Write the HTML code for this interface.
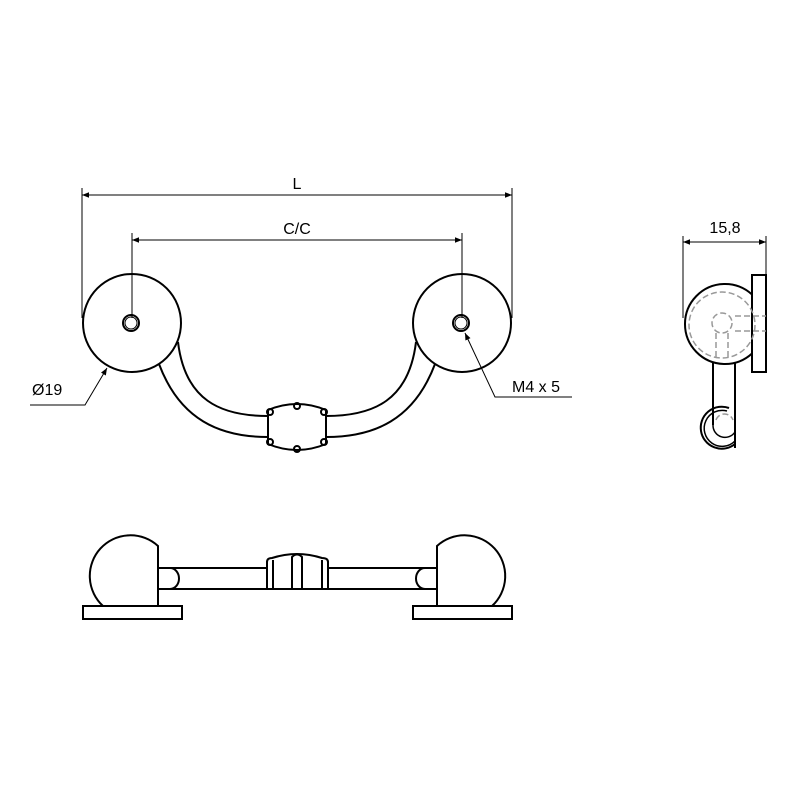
<!DOCTYPE html>
<html><head><style>body{margin:0;background:#fff}svg{display:block}</style></head><body>
<svg width="800" height="800" viewBox="0 0 800 800" xmlns="http://www.w3.org/2000/svg" font-family="Liberation Sans, sans-serif">
<defs><marker id="a" viewBox="0 0 10 10" refX="10" refY="5" markerWidth="10" markerHeight="7" orient="auto-start-reverse" markerUnits="userSpaceOnUse"><path d="M0,1 L10,5 L0,9z" fill="#000"/></marker></defs>
<g stroke="#000" fill="none" stroke-width="1">
<line x1="82" y1="195" x2="512" y2="195" marker-start="url(#a)" marker-end="url(#a)"/>
<line x1="82" y1="188" x2="82" y2="318"/><line x1="512" y1="188" x2="512" y2="318"/>
<line x1="132" y1="240" x2="462" y2="240" marker-start="url(#a)" marker-end="url(#a)"/>
<line x1="132" y1="233" x2="132" y2="318"/><line x1="462" y1="233" x2="462" y2="318"/>
<polyline points="30,405 85,405 107,368" marker-end="url(#a)"/>
<polyline points="572,397 495,397 465,333" marker-end="url(#a)"/>
<line x1="683" y1="242" x2="766" y2="242" marker-start="url(#a)" marker-end="url(#a)"/>
<line x1="683" y1="236" x2="683" y2="318"/><line x1="766" y1="236" x2="766" y2="275"/>
</g>
<g stroke="#000" fill="none" stroke-width="2">
<circle cx="132" cy="323" r="49"/><circle cx="462" cy="323" r="49"/>
<circle cx="131" cy="323" r="8"/><circle cx="131" cy="323" r="6" stroke-width="1"/>
<circle cx="461" cy="323" r="8"/><circle cx="461" cy="323" r="6" stroke-width="1"/>
<path d="M159,364 C180,420 220,437 268,437"/><path d="M178,342 C185,400 220,416 268,416"/>
<path d="M435,364 C414,420 374,437 326,437"/><path d="M416,342 C409,400 374,416 326,416"/>
<path d="M268,410 Q297,398 326,410 L326,444 Q297,456 268,444 Z"/>
<circle cx="297" cy="406" r="3"/><circle cx="297" cy="449" r="3"/>
<circle cx="270" cy="412" r="3"/><circle cx="324" cy="412" r="3"/><circle cx="270" cy="442" r="3"/><circle cx="324" cy="442" r="3"/>
<path d="M158,606 L158,546 A36,36 0 1 0 103,606"/>
<rect x="83" y="606" width="99" height="13"/>
<path d="M437,606 L437,546 A36,36 0 1 1 492,606"/>
<rect x="413" y="606" width="99" height="13"/>
<line x1="158" y1="568" x2="267" y2="568"/><line x1="158" y1="589" x2="267" y2="589"/>
<line x1="328" y1="568" x2="437" y2="568"/><line x1="328" y1="589" x2="437" y2="589"/>
<path d="M158,568 L170,568 A9,10.5 0 0 1 170,589"/>
<path d="M437,568 L425,568 A9,10.5 0 0 0 425,589"/>
<path d="M267,589 L267,562 Q267,558 272,558 Q297,550 322,558 Q328,558 328,562 L328,589 Z"/>
<line x1="273" y1="560" x2="273" y2="589"/><line x1="322" y1="560" x2="322" y2="589"/>
<path d="M292,589 L292,557 Q297,552 302,557 L302,589"/>
<!-- side -->
<path d="M752,294.5 A40,40 0 1 0 752,353.5"/>
<rect x="752" y="275" width="14" height="97"/>
<line x1="713" y1="362" x2="713" y2="425"/><line x1="735" y1="363" x2="735" y2="448"/>
<path d="M729,408 A21,21 0 1 0 735,444"/>
<path d="M727,411 A18,18 0 1 0 735,441" stroke-width="1.5"/>
<path d="M713,425 A12,12 0 0 0 735,432" stroke-width="1.5"/>
</g>
<g stroke="#999" fill="none" stroke-width="1.5" stroke-dasharray="6,3">
<circle cx="722" cy="325" r="33"/><circle cx="722" cy="323" r="10"/>
<line x1="735" y1="316" x2="766" y2="316"/><line x1="735" y1="331" x2="766" y2="331"/>
<line x1="716" y1="333" x2="716" y2="358"/><line x1="728" y1="333" x2="728" y2="358"/>
<path d="M716,420 A9,9 0 0 1 733,420"/>
</g>
<g font-size="16" fill="#000">
<text x="297" y="189" text-anchor="middle">L</text>
<text x="297" y="234" text-anchor="middle">C/C</text>
<text x="32" y="395">Ø19</text>
<text x="512" y="392">M4 x 5</text>
<text x="725" y="233" text-anchor="middle">15,8</text>
</g>
</svg>
</body></html>
